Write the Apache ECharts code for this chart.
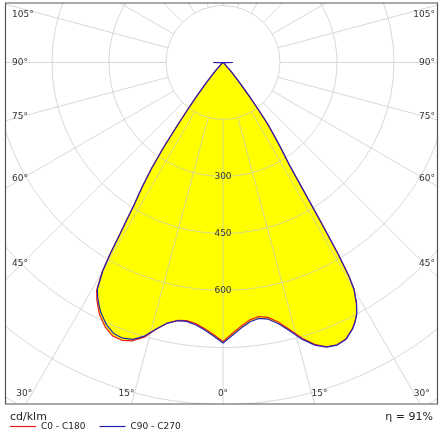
<!DOCTYPE html>
<html>
<head>
<meta charset="utf-8">
<script src="https://cdn.jsdelivr.net/npm/echarts@6/dist/echarts.min.js"></script>
<style>
  html, body { margin: 0; padding: 0; background: #fff; }
  #chart { width: 443px; height: 440px; }
</style>
</head>
<body>
<div id="chart"></div>
<script>
// gamma angles in degrees, negative = C180 / C270 half, positive = C0 / C90 half
const angles = [
  -180, -95, -90, -85, -60, -50, -45, -42, -40, -39, -38, -37, -36, -35, -34, -33, -32, -31.5, -31, -30.5,
  -30, -29, -28, -27, -26, -24, -22, -20, -18, -16, -14, -12, -10, -8, -6, -4, -2,
  0,
  2, 4, 6, 8, 10, 12, 14, 16, 18, 20, 22, 24, 26, 27, 28, 29, 30,
  30.5, 31, 31.5, 32, 33, 34, 35, 36, 37, 38, 39, 40, 42, 45, 50, 60, 85, 90, 95, 180
];
// cd/klm
const c0c180 = [
  0, 0, 26, 1, 2, 3, 8, 30, 62, 80, 112, 152, 204, 274, 338, 392, 442, 483, 528, 588,
  636, 686, 707, 724, 740, 762, 776, 778, 770, 752, 723, 701, 689, 686, 691, 702, 716,
  734,
  713, 695, 681, 675, 681, 698, 724, 755, 780, 796, 801, 796, 778, 765, 749, 724, 689,
  654, 588, 498, 418, 316, 273, 233, 198, 148, 108, 78, 60, 29, 8, 3, 2, 1, 26, 0, 0
];
const c90c270 = [
  0, 0, 26, 1, 2, 3, 8, 30, 62, 80, 110, 150, 200, 270, 335, 390, 440, 480, 525, 585,
  632, 682, 702, 718, 733, 755, 769, 772, 766, 749, 722, 701, 690, 688, 694, 705, 720,
  738,
  718, 700, 686, 680, 686, 703, 728, 758, 782, 797, 802, 797, 779, 766, 750, 725, 690,
  655, 590, 500, 420, 318, 275, 235, 200, 150, 110, 80, 62, 30, 8, 3, 2, 1, 26, 0, 0
];
const seriesNames = ['C0 - C180', 'C90 - C270'];
const angleTicks = [0, 15, 30, 45, 60, 75, 90, 105];
const ringLabels = [300, 450, 600];
const unitLabel = 'cd/klm';
const efficiencyLabel = 'η = 91%';

const CX = 223, CY = 62.5, R = 456; // 1200 cd/klm at R px
const FONT = '"DejaVu Sans", Verdana, sans-serif';
const gridLine = { color: 'rgba(200,200,200,0.7)', width: 1 };

const toPolar = (vals) => angles.map((a, i) => [vals[i], a < 0 ? a + 360 : a]);

// place angle labels where each spoke meets the inner edge of the frame
function spokeLabel(a, side) {
  const rad = a * Math.PI / 180;
  const s = Math.sin(rad), c = Math.cos(rad);
  const yb = 393;
  if (c > 0) {
    const xb = CX + side * (yb - CY) * s / c;
    if (xb > 30 && xb < 416) {
      return { x: xb, y: yb + 1, align: a === 0 ? 'center' : (side < 0 ? 'right' : 'left') };
    }
  }
  const xs = side < 0 ? 22 : 424;
  let y = CY + Math.abs(xs - CX) * c / s;
  y = Math.min(Math.max(y, 15), 393);
  return { x: side < 0 ? 12 : 435, y: y, align: side < 0 ? 'left' : 'right' };
}

const texts = [];
angleTicks.forEach((a) => {
  const sides = a === 0 ? [1] : [-1, 1];
  sides.forEach((side) => {
    const p = spokeLabel(a, side);
    texts.push({
      type: 'text', z: 120,
      style: { text: a + '°', x: p.x, y: p.y, align: p.align, verticalAlign: 'middle',
        fill: '#333', font: '9px ' + FONT }
    });
  });
});

const chart = echarts.init(document.getElementById('chart'), null, { renderer: 'canvas' });

const option = {
  animation: false,
  backgroundColor: '#fff',
  polar: [
    { center: [CX, CY], radius: [57, R] }, // spokes, starting at the 150 ring
    { center: [CX, CY], radius: R }        // rings + data
  ],
  angleAxis: [
    {
      polarIndex: 0, type: 'value', min: 0, max: 360, interval: 15, startAngle: 270, z: 2,
      axisLine: { show: false }, axisTick: { show: false }, axisLabel: { show: false },
      splitLine: { show: true, lineStyle: gridLine }
    },
    {
      polarIndex: 1, type: 'value', min: 0, max: 360, startAngle: 270, clockwise: false,
      axisLine: { show: false }, axisTick: { show: false }, axisLabel: { show: false },
      splitLine: { show: false }
    }
  ],
  radiusAxis: [
    { polarIndex: 0, type: 'value', min: 0, max: 1, show: false },
    {
      polarIndex: 1, type: 'value', min: 0, max: 1200, interval: 150, z: 2,
      axisLine: { show: false }, axisTick: { show: false },
      splitLine: { show: true, lineStyle: gridLine },
      axisLabel: {
        margin: 0, align: 'center', verticalAlign: 'middle',
        fontSize: 9, fontFamily: FONT, color: '#333',
        formatter: (v) => (ringLabels.includes(v) ? String(v) : '')
      }
    }
  ],
  legend: {
    data: seriesNames, left: 10, top: 422, z: 120, padding: 0,
    icon: 'rect', itemWidth: 26, itemHeight: 1.2, itemGap: 14,
    textStyle: { fontSize: 9, fontFamily: FONT, color: '#222' }
  },
  series: [
    {
      name: 'fill0', type: 'line', coordinateSystem: 'polar', polarIndex: 1, z: 1,
      data: toPolar(c0c180), symbol: 'none', silent: true,
      lineStyle: { width: 0 }, areaStyle: { color: '#ffff00', opacity: 1 }
    },
    {
      name: 'fill1', type: 'line', coordinateSystem: 'polar', polarIndex: 1, z: 1,
      data: toPolar(c90c270), symbol: 'none', silent: true,
      lineStyle: { width: 0 }, areaStyle: { color: '#ffff00', opacity: 1 }
    },
    {
      name: seriesNames[0], type: 'line', coordinateSystem: 'polar', polarIndex: 1, z: 4,
      data: toPolar(c0c180), symbol: 'none', color: '#e41e1e',
      lineStyle: { width: 1.2, color: '#e41e1e' }
    },
    {
      name: seriesNames[1], type: 'line', coordinateSystem: 'polar', polarIndex: 1, z: 5,
      data: toPolar(c90c270), symbol: 'none', color: '#2424b4',
      lineStyle: { width: 1.2, color: '#2424b4' }
    }
  ],
  graphic: [
    // white masks clip the grid to the frame
    { type: 'rect', z: 100, silent: true, shape: { x: 0, y: 0, width: 5, height: 440 }, style: { fill: '#fff' } },
    { type: 'rect', z: 100, silent: true, shape: { x: 438, y: 0, width: 5, height: 440 }, style: { fill: '#fff' } },
    { type: 'rect', z: 100, silent: true, shape: { x: 0, y: 0, width: 443, height: 3 }, style: { fill: '#fff' } },
    { type: 'rect', z: 100, silent: true, shape: { x: 0, y: 404, width: 443, height: 36 }, style: { fill: '#fff' } },
    { type: 'rect', z: 110, silent: true, shape: { x: 5.5, y: 3, width: 432, height: 401 },
      style: { fill: null, stroke: '#555', lineWidth: 1.2 } },
    { type: 'text', z: 120, style: { text: unitLabel, x: 10, y: 417, verticalAlign: 'middle',
      fill: '#222', font: '11px ' + FONT } },
    { type: 'text', z: 120, style: { text: efficiencyLabel, x: 433, y: 417, align: 'right',
      verticalAlign: 'middle', fill: '#222', font: '11px ' + FONT } }
  ].concat(texts)
};

chart.setOption(option);
</script>
</body>
</html>
